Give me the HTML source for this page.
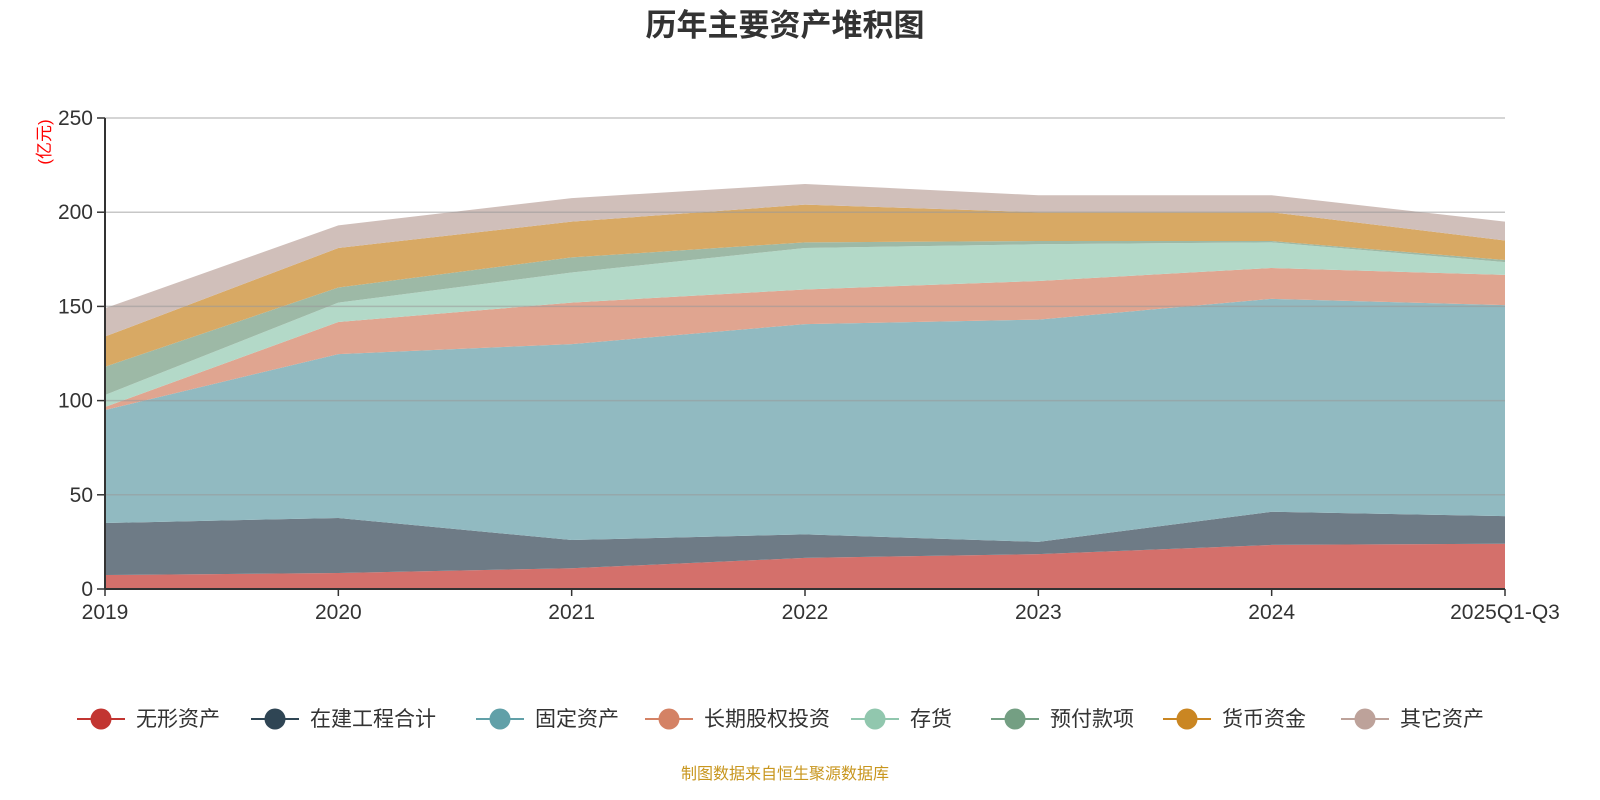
<!DOCTYPE html>
<html><head><meta charset="utf-8"><style>
body{margin:0;background:#fff;}
svg{display:block;font-family:"Liberation Sans","Noto Sans CJK SC",sans-serif;}
</style></head><body>
<svg id="chart" width="1600" height="800">
<text x="785" y="36" text-anchor="middle" font-size="31" font-weight="bold" fill="#333">历年主要资产堆积图</text>
<text transform="translate(50,142) rotate(-90)" text-anchor="middle" font-size="17" fill="#f00">(亿元)</text>
<g id="areas"></g><g id="grid"></g><g id="axes"></g><g id="legend"></g>
<text x="785" y="779" text-anchor="middle" font-size="16" fill="#c8961e">制图数据来自恒生聚源数据库</text>
</svg>
<script>
const categories=["2019","2020","2021","2022","2023","2024","2025Q1-Q3"];
const seriesNames=["无形资产","在建工程合计","固定资产","长期股权投资","存货","预付款项","货币资金","其它资产"];
const s0=[7.4,8.5,11,16.5,18.5,23.4,24];
const s1=[27.6,29.2,15,12.5,6.5,17.6,14.7];
const s2=[60,87,104,111.6,118,113,112];
const s3=[1.6,17,22,18.4,20.5,16.4,16];
const s4=[6.4,10.3,16,22,19.5,13.6,6.8];
const s5=[15,8,8,3,1.7,0.7,1.1];
const s6=[16,21,19,20,15.3,15.3,10.4];
const s7=[15,12,12.5,11,9,9,10];
const yTicks=[0,50,100,150,200,250];
const series=[s0,s1,s2,s3,s4,s5,s6,s7];
const fills=["#d4706b","#6e7b86","#91bac1","#e0a590","#b3d9c8","#9db9a6","#d8a964","#d0bfba"];
const markers=["#c23531","#2f4554","#61a0a8","#d48265","#91c7ae","#749f83","#ca8622","#bda29a"];
const NS="http://www.w3.org/2000/svg";
const x0=105,x1=1505,yb=589,yt=118;
const X=i=>x0+(x1-x0)*i/(categories.length-1);
const Y=v=>yb-(yb-yt)*v/250;
function mk(t,a,p){const e=document.createElementNS(NS,t);for(const k in a)e.setAttribute(k,a[k]);p.appendChild(e);return e;}
const areas=document.getElementById('areas');
let base=categories.map(()=>0);
series.forEach((s,k)=>{
  const top=base.map((b,i)=>b+s[i]);
  let d="M"+top.map((v,i)=>X(i)+","+Y(v)).join(" L");
  for(let i=categories.length-1;i>=0;i--)d+=" L"+X(i)+","+Y(base[i]);
  const p=mk('path',{d:d+"Z",fill:fills[k]},areas);
  
  
  base=top;
});
const grid=document.getElementById('grid'),axes=document.getElementById('axes');
yTicks.forEach(t=>{
  if(t>0){const l=mk('line',{x1:x0,x2:x1,y1:Y(t),y2:Y(t),stroke:"#999","stroke-opacity":0.55,"stroke-width":1.5},grid);
  }
  const tk=mk('line',{x1:x0-8,x2:x0,y1:Y(t),y2:Y(t),stroke:"#333","stroke-width":1.5},axes);
  
  const tx=mk('text',{x:x0-12,y:Y(t)+7,"text-anchor":"end","font-size":21,fill:"#333"},axes);
  tx.textContent=t;
});
const ya=mk('line',{x1:x0,x2:x0,y1:yt,y2:yb,stroke:"#333","stroke-width":2},axes);

const xa=mk('line',{x1:x0,x2:x1,y1:yb,y2:yb,stroke:"#333","stroke-width":2},axes);

categories.forEach((c,i)=>{
  const tk=mk('line',{x1:X(i),x2:X(i),y1:yb,y2:yb+7,stroke:"#333","stroke-width":1.5},axes);
  
  const tx=mk('text',{x:X(i),y:yb+30,"text-anchor":"middle","font-size":21,fill:"#333"},axes);
  tx.textContent=c;
});
const lg=document.getElementById('legend');
const lx=[101,275,500,669,875,1015,1187,1365];
seriesNames.forEach((n,k)=>{
  const g=mk('g',{},lg);
  
  
  mk('line',{x1:lx[k]-24,x2:lx[k]+24,y1:719,y2:719,stroke:markers[k],"stroke-width":2},g);
  mk('circle',{cx:lx[k],cy:719,r:10.5,fill:markers[k]},g);
  const t=mk('text',{x:lx[k]+35,y:726,"font-size":21,fill:"#333"},g);t.textContent=n;
});
</script>
</body></html>
